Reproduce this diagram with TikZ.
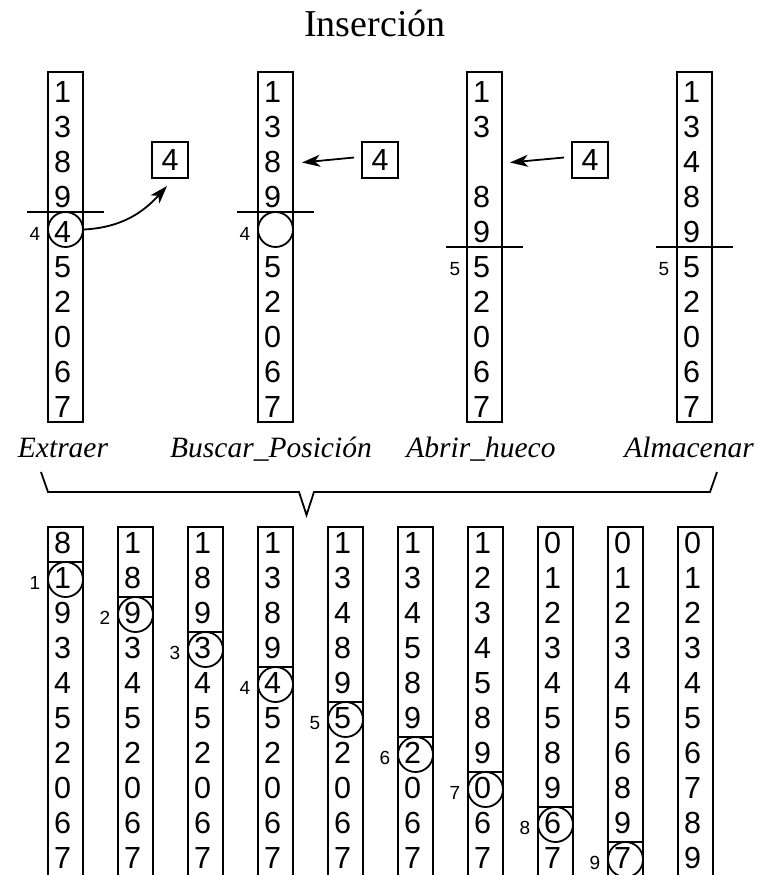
\documentclass[tikz,border=0pt]{standalone}
\usepackage{fontspec}
\setmainfont{Liberation Serif}
\newfontfamily\digf{Liberation Sans}
\usetikzlibrary{arrows.meta}
\tikzset{
  dig/.style={font=\digf\fontsize{30.5}{32}\selectfont, anchor=base, inner sep=0pt},
  small/.style={font=\digf\fontsize{19}{20}\selectfont, anchor=base, inner sep=0pt},
  colbox/.style={draw, line width=1.8pt},
  thin/.style={line width=1.8pt},
  ring/.style={circle, draw, line width=1.8pt, minimum size=35pt, inner sep=0pt},
  valbox/.style={draw, line width=1.8pt, minimum size=36pt, inner sep=0pt, font=\digf\fontsize{30.5}{32}\selectfont},
  arr/.style={line width=1.8pt, -{Stealth[length=18pt,width=12pt,inset=5pt]}},
  lbl/.style={font=\itshape\fontsize{29.5}{32}\selectfont, anchor=base, inner sep=0pt},
}
\begin{document}
\begin{tikzpicture}[x=1pt,y=-1pt]
\useasboundingbox (0,0) rectangle (758,875);

% title
\node[font=\fontsize{38}{40}\selectfont, anchor=base, inner sep=0pt] (title) at (375,37) {Inserción};

% ---------- top columns ----------
% column 1 (Extraer)
\draw[colbox] (48,72) rectangle (83,422);
\foreach \d [count=\i] in {1,3,8,9,4,5,2,0,6,7}
  \node[dig] (ta\i) at (62.5,{72+35*(\i-0.5)+13}) {\d};
\draw[thin] (27,212) -- (104,212);
\node[ring] (tac) at (65.5,229.5) {};
\node[small] (tal) at (35,{229.5+10.7}) {4};
\node[valbox] (tab) at (170,160) {4};
\coordinate (tatip) at (167,186);
\draw[arr] (tac.east) to[out=3,in=228] (tatip);

% column 2 (Buscar_Posicion)
\draw[colbox] (258,72) rectangle (293,422);
\foreach \d [count=\i] in {1,3,8,9,{},5,2,0,6,7}
  \node[dig] (tb\i) at (272.5,{72+35*(\i-0.5)+13}) {\d};
\draw[thin] (237,212) -- (314,212);
\node[ring] (tbc) at (275.5,229.5) {};
\node[small] (tbl) at (245,{229.5+10.7}) {4};
\node[valbox] (tbb) at (380,160) {4};
\coordinate (tbtip) at (302,162.5);
\draw[arr] ([xshift=-7pt,yshift=2.5pt]tbb.west) -- (tbtip);

% column 3 (Abrir_hueco)
\draw[colbox] (467,72) rectangle (502,422);
\foreach \d [count=\i] in {1,3,{},8,9,5,2,0,6,7}
  \node[dig] (tc\i) at (481.5,{72+35*(\i-0.5)+13}) {\d};
\draw[thin] (446,247) -- (523,247);
\node[small] (tcl) at (455,{264.5+10.7}) {5};
\node[valbox] (tcb) at (590,160) {4};
\coordinate (tctip) at (510,162.5);
\draw[arr] ([xshift=-7pt,yshift=2.5pt]tcb.west) -- (tctip);

% column 4 (Almacenar)
\draw[colbox] (677,72) rectangle (712,422);
\foreach \d [count=\i] in {1,3,4,8,9,5,2,0,6,7}
  \node[dig] (td\i) at (691.5,{72+35*(\i-0.5)+13}) {\d};
\draw[thin] (656,247) -- (733,247);
\node[small] (tdl) at (664,{264.5+10.7}) {5};

% labels
\node[lbl] (l1) at (63,457) {Extraer};
\node[lbl] (l2) at (271,457) {Buscar\_Posición};
\node[lbl] (l3) at (481,457) {Abrir\_hueco};
\node[lbl] (l4) at (689,457) {Almacenar};

% brace
\draw[thin, line join=miter] (41,472) -- (48,492) -- (299,492) -- (306.5,515) -- (314,492) -- (710,492) -- (717,472);

% ---------- bottom columns ----------
\foreach \k/\list in {1/{8,1,9,3,4,5,2,0,6,7},
                      2/{1,8,9,3,4,5,2,0,6,7},
                      3/{1,8,9,3,4,5,2,0,6,7},
                      4/{1,3,8,9,4,5,2,0,6,7},
                      5/{1,3,4,8,9,5,2,0,6,7},
                      6/{1,3,4,5,8,9,2,0,6,7},
                      7/{1,2,3,4,5,8,9,0,6,7},
                      8/{0,1,2,3,4,5,8,9,6,7},
                      9/{0,1,2,3,4,5,6,8,9,7},
                      10/{0,1,2,3,4,5,6,7,8,9}} {
  \pgfmathsetmacro{\L}{48+70*(\k-1)}
  \draw[colbox] (\L,880) -- (\L,527) -- (\L+35,527) -- (\L+35,880);
  \foreach \d [count=\i] in \list
    \node[dig] (b\k d\i) at (\L+14.5,{527+35*(\i-0.5)+9}) {\d};
  \ifnum\k<10
    \draw[thin] (\L,527+35*\k) -- (\L+35,527+35*\k);
    \node[ring] (b\k c) at (\L+17.5,{527+35*(\k+0.5)}) {};
    \node[small] (b\k l) at (\L-13,{527+35*(\k+0.5)+9.5}) {\k};
  \fi
}
\end{tikzpicture}
\end{document}
